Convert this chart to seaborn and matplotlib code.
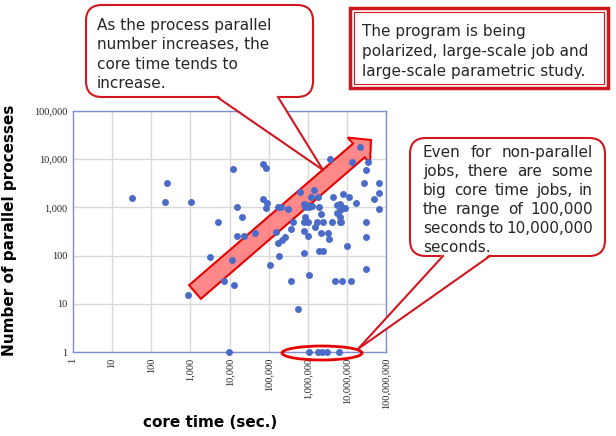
import numpy as np
import pandas as pd
import matplotlib
matplotlib.use('Agg')
import matplotlib.pyplot as plt
import seaborn as sns
from matplotlib.patches import FancyBboxPatch, Polygon, Rectangle, Ellipse, FancyArrow
from matplotlib.lines import Line2D
from matplotlib.transforms import Affine2D
from matplotlib.ticker import NullLocator

# data (core time in sec., number of parallel processes)
core_time = [32, 250, 225, 1050, 12000, 72000, 85000, 15500, 21000, 5000,
             16000, 24000, 45000, 3200, 11500, 7400, 13400, 860, 9600,
             70000, 92000, 85000, 173000, 205000, 322000, 427000, 363000, 256000, 219000,
             178000, 154000, 186000, 108000, 363000, 550000, 1070000, 813000, 630000,
             1470000, 1230000, 1860000, 800000, 950000, 1100000, 850000, 1300000,
             1950000, 2130000, 860000, 1000000, 780000, 1700000, 2400000, 1500000,
             780000, 1000000, 2200000, 3300000, 3500000, 1950000, 2500000, 4150000,
             6900000, 4400000, 6500000, 7800000, 11500000, 5500000, 5500000, 6500000,
             8000000, 9000000, 6800000, 6800000, 17000000, 10200000, 5100000, 7300000,
             12600000, 3800000, 13500000, 21600000, 34000000, 31000000, 27400000,
             67000000, 66000000, 48000000, 67000000, 31000000, 31000000, 31000000,
             1050000, 1860000, 2300000, 3100000, 6300000]
procs = [1600, 3150, 1300, 1300, 6300, 8100, 6700, 1000, 620, 500,
         250, 250, 290, 94, 83, 30, 24, 15, 1,
         1500, 1260, 980, 1000, 1000, 940, 500, 360, 247, 210,
         180, 310, 97, 63, 30, 7.8, 39, 114, 2040,
         2350, 1660, 1620, 1200, 1100, 1000, 1000, 1050,
         1000, 730, 620, 500, 500, 500, 500, 400,
         320, 250, 290, 290, 225, 127, 127, 500,
         500, 1660, 1200, 1900, 1660, 1100, 780, 900,
         950, 950, 640, 500, 1250, 155, 30, 30,
         30, 10200, 8900, 18000, 8900, 6100, 3200,
         3200, 2000, 1500, 940, 500, 247, 52,
         1, 1, 1, 1, 1]
x_ticks = [10 ** i for i in range(9)]
y_ticks = [10 ** i for i in range(6)]

df = pd.DataFrame({'core_time': core_time, 'procs': procs})

W, H = 616, 436
fig = plt.figure(figsize=(W / 100, H / 100), dpi=100)
px = Affine2D().scale(1, -1).translate(0, H)  # image pixel coords (y down)

red = '#D0161E'
bright = '#E60000'
txt = '#262626'
fs = 11

ax = fig.add_axes([73 / W, 1 - 352 / H, (386 - 73) / W, (352 - 111) / H])
sns.scatterplot(data=df, x='core_time', y='procs', ax=ax, color='#4A6BC8',
                s=25, linewidth=0, zorder=3, clip_on=False)
ax.set_xscale('log')
ax.set_yscale('log')
ax.set_xlim(1, 1e8)
ax.set_ylim(1, 1e5)
ax.set_xticks(x_ticks)
ax.set_yticks(y_ticks)
ax.xaxis.set_minor_locator(NullLocator())
ax.yaxis.set_minor_locator(NullLocator())
ax.set_xticklabels([f'{v:,}' for v in x_ticks], rotation=90,
                   fontfamily='Liberation Serif', fontsize=7.5, color=txt)
ax.set_yticklabels([f'{v:,}' for v in y_ticks],
                   fontfamily='Liberation Serif', fontsize=7.5, color=txt)
ax.tick_params(length=0, pad=4)
ax.set_xlabel('')
ax.set_ylabel('')
ax.grid(True, color='#D9D9D9', lw=1)
ax.set_axisbelow(True)
for sp in ax.spines.values():
    sp.set_color('#7F8FD6')
    sp.set_linewidth(1)

fig.text(10, 230, 'Number of parallel processes', transform=px, rotation=90,
         ha='center', va='center', fontsize=11, fontweight='bold', color='black')
fig.text(210, 422, 'core time (sec.)', transform=px, ha='center', va='center',
         fontsize=11, fontweight='bold', color='black')

# big trend arrow
arrow = FancyArrow(195, 292, 176, -152, width=18, head_width=34, head_length=16,
                   length_includes_head=True, transform=px,
                   fc=(1, 0.45, 0.45, 0.85), ec=bright, lw=1.5, zorder=2)
ax.add_artist(arrow)

# ellipse around the non-parallel jobs
fig.add_artist(Ellipse((322, 353), 80, 14, transform=px, fill=False, ec=bright, lw=2, zorder=5))


def callout(x0, y0, x1, y1, base_a, base_b, tip):
    fig.add_artist(FancyBboxPatch((x0, y0), x1 - x0, y1 - y0,
                                  boxstyle='round,pad=0,rounding_size=16',
                                  transform=px, fc='white', ec=red, lw=1.5, zorder=5))
    fig.add_artist(Polygon([(base_a[0], base_a[1] - 2), tip, (base_b[0], base_b[1] - 2)],
                           closed=True, transform=px, fc='white', ec='none', zorder=6))
    for b in (base_a, base_b):
        fig.add_artist(Line2D([b[0], tip[0]], [b[1], tip[1]], transform=px,
                              color=red, lw=1.5, zorder=6))


callout(86, 5, 313, 97, (217, 97), (278, 97), (323, 170))
callout(410, 138, 605, 256, (443, 256), (490, 256), (358, 349))

for i, line in enumerate(['As the process parallel', 'number increases, the',
                          'core time tends to', 'increase.']):
    fig.text(97, 25 + i * 19.5, line, transform=px, ha='left', va='center',
             fontsize=fs, color=txt, zorder=7)

# double-bordered box
fig.add_artist(Rectangle((350, 8), 258, 80, transform=px, fc='white', ec=red, lw=2.5, zorder=5))
fig.add_artist(Rectangle((354, 12), 250, 72, transform=px, fill=False, ec=red, lw=0.8, zorder=6))
for i, line in enumerate(['The program is being', 'polarized, large-scale job and',
                          'large-scale parametric study.']):
    fig.text(362, 31 + i * 20, line, transform=px, ha='left', va='center',
             fontsize=fs, color=txt, zorder=7)

# justified text in right callout
renderer = fig.canvas.get_renderer()
right_lines = ['Even for non-parallel', 'jobs, there are some', 'big core time jobs, in',
               'the range of 100,000', 'seconds to 10,000,000', 'seconds.']
left, right = 423, 593
for i, line in enumerate(right_lines):
    y = 152 + i * 19
    words = line.split()
    if i == len(right_lines) - 1:
        fig.text(left, y, line, transform=px, ha='left', va='center',
                 fontsize=fs, color=txt, zorder=7)
        continue
    items = [fig.text(0, y, w, transform=px, ha='left', va='center',
                      fontsize=fs, color=txt, zorder=7) for w in words]
    widths = [t.get_window_extent(renderer).width for t in items]
    gap = (right - left - sum(widths)) / (len(words) - 1)
    x = left
    for t, w in zip(items, widths):
        t.set_x(x)
        x += w + gap

fig.savefig('out.png', dpi=100)
